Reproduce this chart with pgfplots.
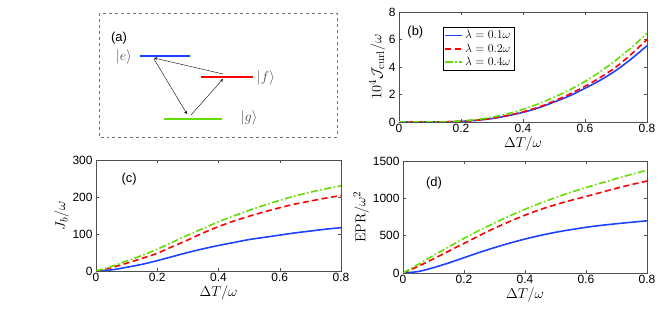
\documentclass[border=0pt]{standalone}
\usepackage[no-math]{fontspec}
\setmainfont{Liberation Sans}
\usepackage{pgfplots}
\pgfplotsset{compat=1.18}
\definecolor{mblue}{RGB}{30,65,255}
\definecolor{mred}{RGB}{255,0,0}
\definecolor{mgreen}{RGB}{100,220,0}
\definecolor{axgray}{RGB}{80,80,80}
\pgfplotsset{
  every axis/.append style={
    scale only axis,
    anchor=south west,
    axis line style={axgray},
    every tick/.style={axgray},
    tick align=inside,
    major tick length=3bp,
    xmin=0, xmax=0.8,
    xtick={0,0.2,0.4,0.6,0.8},
    xticklabels={0,0.2,0.4,0.6,0.8},
    /pgf/number format/assume math mode=true,
    /pgf/number format/1000 sep={},
    scaled y ticks=false,
    tick label style={font=\fontsize{12}{13}\selectfont},
    xticklabel style={yshift=1bp},
    label style={font=\fontsize{15}{16}\selectfont},
    xlabel={$\Delta T/\omega$},
    xlabel style={yshift=3bp},
    ylabel style={yshift=-3bp},
  },
  sb/.style={draw=mblue, color=mblue, line width=1.6pt, solid, smooth},
  sr/.style={draw=mred, color=mred, line width=1.6pt, dash pattern=on 6bp off 3.5bp, smooth},
  sg/.style={draw=mgreen, color=mgreen, line width=1.6pt, dash pattern=on 7bp off 2.5bp on 1.5bp off 2.5bp, smooth},
}
\begin{document}
\begin{tikzpicture}[x=1bp,y=1bp]
\useasboundingbox (0,0) rectangle (664bp,313bp);
% ---------- panel (a) ----------
\draw[axgray!80, dashed, line width=0.5pt] (99bp,300bp) rectangle (337bp,176bp);
\node[font=\fontsize{13}{14}\selectfont] at (119bp,275bp) {(a)};
\draw[mblue, line width=2pt] (140bp,257bp) -- (190bp,257bp);
\draw[mred, line width=2pt] (201bp,236bp) -- (253bp,236bp);
\draw[mgreen, line width=2pt] (164bp,194bp) -- (222bp,194bp);
\node[black!70, font=\fontsize{15}{16}\selectfont] at (124bp,256bp) {$|e\rangle$};
\node[black!70, font=\fontsize{15}{16}\selectfont] at (266bp,235bp) {$|f\rangle$};
\node[black!70, font=\fontsize{15}{16}\selectfont] at (249bp,195bp) {$|g\rangle$};
\draw[-stealth, line width=0.4pt] (154bp,254bp) -- (187bp,199bp);
\draw[-stealth, line width=0.4pt] (191bp,198bp) -- (223bp,234bp);
\draw[-stealth, line width=0.4pt] (223bp,239bp) -- (154bp,255bp);
% ---------- panel (b) ----------
\begin{axis}[at={(399bp,191bp)}, width=248bp, height=110bp,
  ymin=0, ymax=8, ytick={0,2,4,6,8},
  ylabel={$10^4\mathcal{J}_{\mathrm{curl}}/\omega$},
  legend style={at={(0.177,0.864)}, anchor=north west,
    font=\fontsize{13}{14}\selectfont, row sep=-0.5bp, inner sep=1.5bp},
  legend cell align=left]
\addlegendimage{sb}
\addlegendimage{sr}
\addlegendimage{sg}
\addplot[sb, forget plot] coordinates {(0,0) (0.05,0) (0.1,0) (0.15,0.01) (0.2,0.05) (0.25,0.12) (0.3,0.25) (0.35,0.45) (0.4,0.7) (0.45,1.03) (0.5,1.45) (0.55,1.9) (0.6,2.45) (0.65,3.05) (0.7,3.75) (0.75,4.6) (0.8,5.55)};
\addplot[sr, forget plot] coordinates {(0,0) (0.05,0) (0.1,0) (0.15,0.01) (0.2,0.05) (0.25,0.13) (0.3,0.27) (0.35,0.48) (0.4,0.74) (0.45,1.08) (0.5,1.52) (0.55,2.02) (0.6,2.6) (0.65,3.25) (0.7,4.0) (0.75,4.95) (0.8,6.0)};
\addplot[sg, forget plot] coordinates {(0,0) (0.05,0) (0.1,0) (0.15,0.02) (0.2,0.08) (0.25,0.18) (0.3,0.35) (0.35,0.6) (0.4,0.92) (0.45,1.32) (0.5,1.8) (0.55,2.33) (0.6,2.95) (0.65,3.68) (0.7,4.5) (0.75,5.42) (0.8,6.45)};
\legend{$\lambda=0.1\omega$,$\lambda=0.2\omega$,$\lambda=0.4\omega$}
\node[font=\fontsize{13}{14}\selectfont, anchor=west] at (rel axis cs:0.02,0.82) {(b)};
\end{axis}
% ---------- panel (c) ----------
\begin{axis}[at={(96bp,42bp)}, width=245bp, height=111bp,
  ymin=0, ymax=300, ytick={0,100,200,300},
  ylabel={$J_b/\omega$}]
\addplot[sb] coordinates {(0,0) (0.05,3) (0.1,10) (0.15,18) (0.2,28) (0.25,39) (0.3,50) (0.35,60) (0.4,69) (0.45,77) (0.5,85) (0.55,91) (0.6,97) (0.65,103) (0.7,108) (0.75,113) (0.8,117)};
\addplot[sr] coordinates {(0,0) (0.05,9) (0.1,21) (0.15,34) (0.2,48) (0.25,66) (0.3,84) (0.35,103) (0.4,120) (0.45,135) (0.5,148) (0.55,160) (0.6,171) (0.65,181) (0.7,189) (0.75,197) (0.8,204)};
\addplot[sg] coordinates {(0,0) (0.05,12) (0.1,27) (0.15,42) (0.2,59) (0.25,78) (0.3,97) (0.35,115) (0.4,133) (0.45,149) (0.5,164) (0.55,178) (0.6,191) (0.65,203) (0.7,213) (0.75,222) (0.8,230)};
\node[font=\fontsize{13}{14}\selectfont, anchor=west] at (rel axis cs:0.09,0.83) {(c)};
\end{axis}
% ---------- panel (d) ----------
\begin{axis}[at={(403bp,40bp)}, width=244bp, height=112bp,
  ymin=0, ymax=1500, ytick={0,500,1000,1500},
  ylabel={$\mathrm{EPR}/\omega^2$}]
\addplot[sb] coordinates {(0,0) (0.05,20) (0.1,72) (0.15,135) (0.2,205) (0.25,275) (0.3,340) (0.35,400) (0.4,455) (0.45,503) (0.5,545) (0.55,580) (0.6,612) (0.65,638) (0.7,660) (0.75,680) (0.8,699)};
\addplot[sr] coordinates {(0,0) (0.05,90) (0.1,190) (0.15,293) (0.2,396) (0.25,500) (0.3,600) (0.35,690) (0.4,775) (0.45,850) (0.5,915) (0.55,972) (0.6,1025) (0.65,1080) (0.7,1135) (0.75,1185) (0.8,1232)};
\addplot[sg] coordinates {(0,0) (0.05,115) (0.1,235) (0.15,350) (0.2,464) (0.25,570) (0.3,670) (0.35,765) (0.4,854) (0.45,935) (0.5,1010) (0.55,1080) (0.6,1144) (0.65,1205) (0.7,1265) (0.75,1322) (0.8,1376)};
\node[font=\fontsize{13}{14}\selectfont, anchor=west] at (rel axis cs:0.08,0.80) {(d)};
\end{axis}
\end{tikzpicture}
\end{document}
